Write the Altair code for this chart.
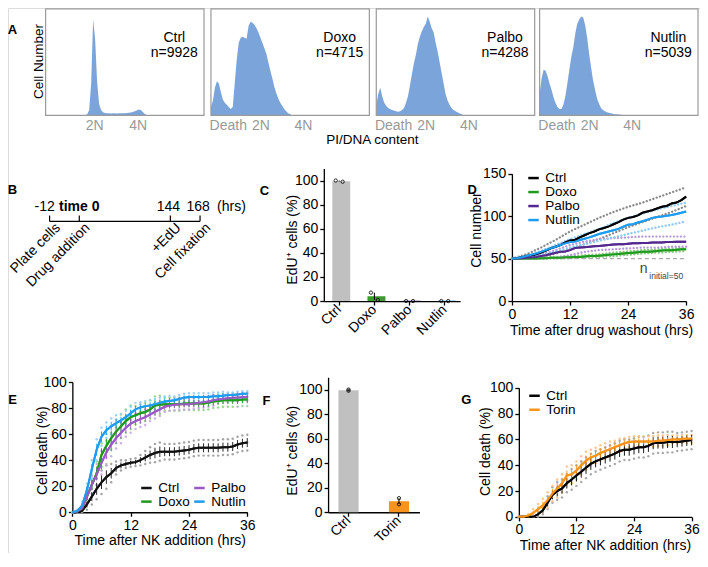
import altair as alt
import pandas as pd

W, H = 692, 545
FONT = "Liberation Sans, Arial, Helvetica, sans-serif"


def X(p):
    return round((p - 5) * 0.99, 2)


def Y(p):
    return round((p - 2.5) * 0.972, 2)


# ======================= DATA =======================
# ---- A: DNA-content histograms (x: box units 0-160, y: % of box height)
A_NAMES = ["Ctrl", "Doxo", "Palbo", "Nutlin"]
A_COUNTS = [9928, 4715, 4288, 5039]
A_BINS = list(range(0, 122, 2))
A_CTRL = [0, 0, 0, 0, 0, 0, 0, 0, 0, 0, 0, 0, 0, 0, 0, 0, 0, 0, 0, 0, 0,
          1, 5, 30, 90, 72, 32, 11, 5, 3, 2.2,
          2, 2, 1.9, 2, 2, 1.9, 2, 2.1, 2, 2.1,
          2.3, 2.5, 2.8, 3.2, 3.8, 4.5, 5.5, 5, 3.5, 1.5,
          0.5, 0, 0, 0, 0, 0, 0, 0, 0, 0]
A_DOXO = [8, 14, 26, 32, 30, 22, 15, 12, 10, 8,
          6, 8, 30, 52, 68, 73, 74, 73, 72, 84,
          88, 87, 85, 82, 78, 73, 68, 63, 58, 50,
          42, 35, 27, 21, 16, 12, 9, 6, 4, 2,
          1, 0, 0, 0, 0, 0, 0, 0, 0, 0, 0, 0, 0, 0, 0, 0, 0, 0, 0, 0, 0]
A_PALBO = [10, 20, 26, 18, 12, 9, 7, 6, 5, 4.5,
           4, 3.5, 4, 5, 7, 12, 18, 28, 39, 49,
           57, 67, 74, 79, 83, 86, 93, 88, 82, 78,
           68, 60, 50, 40, 30, 20, 14, 10, 7, 5,
           4, 3, 2, 1, 0.5, 0, 0, 0, 0, 0, 0, 0, 0, 0, 0, 0, 0, 0, 0, 0, 0]
A_NUTLIN = [20, 35, 43, 42, 37, 30, 24, 17, 12, 8,
            6, 6, 10, 18, 30, 43, 55, 64, 77, 86,
            90, 93, 92, 85, 73, 58, 45, 33, 24, 16,
            11, 7, 5, 4, 3, 2.5, 2, 1.5, 1.2, 1,
            0.8, 0.6, 0.5, 0.3, 0.2, 0.1, 0, 0, 0, 0, 0, 0, 0, 0, 0, 0, 0, 0, 0, 0, 0]
A_HISTS = [A_CTRL, A_DOXO, A_PALBO, A_NUTLIN]
A_TICKS_CTRL = [49, 93]
A_TICKS = [17, 50, 93]
A_TICK_LABELS = ["Death", "2N", "4N"]

# ---- B: timeline
B_HOURS = [-12, 0, 144, 168]
B_TOP = ["-12", "time 0", "144", "168"]
B_EVENTS = ["Plate cells", "Drug addition", "+EdU", "Cell fixation"]

# ---- C: EdU+ cells after drugs
C_GROUPS = ["Ctrl", "Doxo", "Palbo", "Nutlin"]
C_MEANS = [99.5, 4.0, 0.3, 0.3]
C_REP1 = [100, 7, 0, 0]
C_REP2 = [99, 1, 0, 0]
C_COLORS = ["#c0c0c0", "#3f9b2f", "#5b2d8e", "#1e9cf0"]

# ---- D: cell number after washout
HOURS = list(range(0, 37))
D_SERIES = ["Ctrl", "Doxo", "Palbo", "Nutlin"]
D_COLORS = ["#000000", "#1f9a1f", "#54288f", "#1e9cf0"]
D_REP_COLORS = ["#8a8a8a", "#86c97e", "#b59ad8", "#8ccaf7"]
D_CTRL = [50, 50.5, 51.5, 53, 54, 55, 57, 59.5, 62, 64, 66, 69, 71.5, 72, 75, 77.5, 80, 82, 84.5,
          86, 88, 90.5, 93, 96, 98, 99, 101, 104, 105.5, 107, 109, 111, 112, 115, 116, 119, 123]
D_DOXO = [50, 50, 50, 50, 50, 50, 50.5, 50.5, 51, 51, 51, 51.5, 51.5, 52, 52, 52.5, 53, 53, 53.5,
          54, 54.5, 55, 55.5, 56, 56.5, 57, 57.5, 58, 58, 58.5, 59, 59.5, 60, 60, 60.5, 61, 61]
D_PALBO = [50, 50, 50.5, 51, 51.5, 52, 53, 54, 55.5, 57, 58, 58.5, 60, 62.5, 63, 63.5, 64, 64.5, 65,
           65.5, 66, 66.5, 67, 67, 67.5, 68, 68, 68.5, 68.5, 69, 69, 69, 69.5, 69.5, 70, 70, 70]
D_NUTLIN = [50, 50.5, 51.5, 53, 54.5, 56, 58, 60, 62, 64, 66, 68, 69.5, 70, 72, 73.5, 75, 77, 79,
            80.5, 82, 83.5, 85, 87.5, 90, 90.5, 92.5, 94, 96, 98, 99, 99.5, 100.5, 101.5, 102.5, 104, 105.5]
D_T3 = [0, 3, 6, 9, 12, 15, 18, 21, 24, 27, 30, 33, 36]
D_CTRL_R1 = [50, 55, 63, 72, 82, 90, 98, 105, 111, 116, 122, 128, 134]
D_CTRL_R2 = [50, 50, 52, 56, 61, 67, 73, 80, 87, 93, 99, 105, 112]
D_DOXO_R1 = [50, 50, 51, 52, 53, 54, 55, 57, 58.5, 60, 61, 62, 62.5]
D_DOXO_R2 = [50, 50, 50, 50, 50.5, 51, 52, 53, 54.5, 56, 57, 58, 59]
D_PALBO_R1 = [50, 51, 55, 60, 66, 70, 73, 74, 75, 76, 76, 76, 76]
D_PALBO_R2 = [50, 50, 50, 51, 54, 58, 60, 61, 62, 63, 63, 64, 64]
D_NUTLIN_R1 = [50, 53, 59, 66, 73, 79, 85, 92, 98, 103, 108, 112, 116]
D_NUTLIN_R2 = [50, 51, 54, 58, 63, 67, 71, 75, 79, 83, 87, 90, 94]
D_BASE = 50

# ---- E: NK killing after drugs (three replicates per condition)
E_SERIES = ["Ctrl", "Doxo", "Palbo", "Nutlin"]
E_COLORS = ["#111111", "#1f9a1f", "#9b59c6", "#1e9cf0"]
E_DOT_COLORS = ["#9a9a9a", "#8fcf84", "#c6a6e2", "#8fcdf6"]
E_CTRL_A = [0, 0, 0, 2, 6, 10, 14, 18, 23, 29, 32, 34, 35, 35.5, 36, 37, 38, 38.5, 39.5, 40.5,
            40.5, 40.5, 41, 41.5, 42, 43, 43.5, 43.5, 43.5, 43.5, 43.5, 44, 44, 44.5, 46, 47, 47.5]
E_CTRL_B = [0, 0, 1, 6, 12, 18, 23, 27, 30, 34, 36, 37, 38, 38.5, 40, 42, 44, 45.5, 46.5, 46.5,
            46.5, 46.5, 47, 47.5, 48, 49, 49.5, 49.5, 49.5, 49.5, 49.5, 50, 50, 50.5, 52, 53, 53.5]
E_CTRL_C = [0, 0, 2, 10, 18, 26, 32, 36, 37, 39, 40, 40, 41, 41.5, 44, 47, 50, 52.5, 53.5, 52.5,
            52.5, 52.5, 53, 53.5, 54, 55, 55.5, 55.5, 55.5, 55.5, 55.5, 56, 56, 56.5, 58, 59, 59.5]
E_DOXO_A = [0, 0, 1, 7, 14, 21, 35, 42, 48, 53, 57, 61, 64, 67.5, 69, 70, 72, 75, 75.5, 78,
            78, 78, 78, 78.5, 78.5, 78.5, 78.5, 78.5, 79, 80, 80.5, 81, 81, 81, 81, 81.5, 81.5]
E_DOXO_B = [0, 0.5, 3, 12, 21, 30, 44, 51, 57, 62, 66, 70, 73, 74.5, 76, 77, 79, 82, 82.5, 83,
            83, 83, 83, 83.5, 83.5, 83.5, 83.5, 83.5, 84, 85, 85.5, 86, 86, 86, 86, 86.5, 86.5]
E_DOXO_C = [0, 1, 5, 17, 28, 39, 53, 60, 66, 71, 75, 79, 82, 81.5, 83, 84, 86, 89, 89.5, 88,
            88, 88, 88, 88.5, 88.5, 88.5, 88.5, 88.5, 89, 90, 90.5, 91, 91, 91, 91, 91.5, 91.5]
E_PALBO_A = [0, 0, 1, 7, 14, 21, 29, 37, 43, 49, 53, 58, 61, 64, 65.5, 67, 70, 72, 74, 77,
             78, 78.5, 79, 79, 79, 79.5, 80, 80.5, 81, 82, 83.5, 84, 84.5, 85, 85, 85.5, 85.5]
E_PALBO_B = [0, 0.5, 3, 12, 21, 29, 38, 46, 52, 57, 61, 65, 68, 70, 71.5, 73, 75, 77, 79, 81,
             82, 82.5, 83, 83, 83, 83.5, 84, 84.5, 85, 86, 86.5, 87, 87.5, 88, 88, 88.5, 88.5]
E_PALBO_C = [0, 1, 5, 17, 28, 37, 47, 55, 61, 65, 69, 72, 75, 76, 77.5, 79, 80, 82, 84, 85,
             86, 86.5, 87, 87, 87, 87.5, 88, 88.5, 89, 90, 89.5, 90, 90.5, 91, 91, 91.5, 91.5]
E_NUTLIN_A = [0, 0, 2, 12, 26, 40, 51, 57, 60, 62.5, 65.5, 68, 71, 74, 76.5, 77.5, 78, 79, 80, 81,
              81.5, 83, 84, 85, 85.5, 85.5, 85.5, 85.5, 85.5, 86, 86, 86.5, 88, 88, 88.5, 89, 89]
E_NUTLIN_B = [0, 1, 5, 17, 33, 48, 58, 63, 66, 68.5, 70.5, 73, 76, 79, 80.5, 81.5, 82, 83, 84, 85,
              85.5, 86, 87, 88, 88.5, 88.5, 88.5, 88.5, 88.5, 89, 89, 89.5, 90, 90, 90.5, 91, 91]
E_NUTLIN_C = [0, 2, 8, 22, 40, 56, 65, 69, 72, 74.5, 75.5, 78, 81, 84, 84.5, 85.5, 86, 87, 88, 89,
              89.5, 89, 90, 91, 91.5, 91.5, 91.5, 91.5, 91.5, 92, 92, 92.5, 92, 92, 92.5, 93, 93]

# ---- F: EdU+ cells with Torin
F_GROUPS = ["Ctrl", "Torin"]
F_MEANS = [99.5, 9.0]
F_REP1 = [100, 11.5]
F_REP2 = [99, 6.5]
F_COLORS = ["#c0c0c0", "#f7941d"]

# ---- G: NK killing with Torin
G_SERIES = ["Ctrl", "Torin"]
G_COLORS = ["#000000", "#f7941d"]
G_DOT_COLORS = ["#a0a0a0", "#f9c07e"]
G_CTRL_A = [0, 0, 0, 0, 0, 2, 6, 11, 13, 15, 19, 21, 24, 27, 30, 33, 35, 36.5, 38, 39.5,
            41, 43, 44, 44, 45, 46, 46, 47, 49, 49.5, 49.5, 50, 50, 51, 51.5, 52, 52.5]
G_CTRL_B = [0, 0, 0, 0, 2, 5, 11, 17, 20, 22, 26, 29, 32, 35, 38, 41, 43, 44.5, 46, 47.5,
            49, 51, 52, 52, 53, 54, 54, 55, 57, 57.5, 57.5, 58, 58, 58, 58.5, 59, 59.5]
G_CTRL_C = [0, 0, 0, 0, 4, 8, 16, 23, 27, 29, 33, 37, 40, 43, 46, 49, 51, 52.5, 54, 55.5,
            57, 59, 60, 60, 61, 62, 62, 63, 65, 65.5, 65.5, 66, 66, 65, 65.5, 66, 66.5]
G_TORIN_A = [0, 0, 0, 0, 2, 4, 7, 12, 15, 19, 25, 26, 29, 33, 36.5, 40, 41.5, 43.5, 45, 46.5,
             49, 50.5, 53, 54, 54.5, 54.5, 54.5, 54.5, 54.5, 55, 55, 55.5, 57, 57, 57.5, 57.5, 57.5]
G_TORIN_B = [0, 0, 1, 3, 6, 9, 13, 18, 22, 26, 32, 33, 36, 40, 43.5, 46, 47.5, 49.5, 51, 52.5,
             54, 55.5, 57, 58, 58.5, 58.5, 58.5, 58.5, 58.5, 59, 59, 59.5, 60, 60, 60.5, 60.5, 60.5]
G_TORIN_C = [0, 0, 2, 6, 10, 14, 19, 24, 29, 33, 39, 40, 43, 47, 50.5, 52, 53.5, 55.5, 57, 58.5,
             59, 60.5, 61, 62, 62.5, 62.5, 62.5, 62.5, 62.5, 63, 63, 63.5, 63, 63, 63.5, 63.5, 63.5]


# ======================= HELPERS =======================
def lin(domain, rng):
    return alt.Scale(domain=domain, range=rng, nice=False, zero=False)


AXBASE = dict(grid=False, domainColor="black", domainWidth=1.3, tickColor="black", tickWidth=1.3,
              tickSize=4, labelFontSize=14, labelColor="black", labelFont=FONT, labelPadding=2,
              labelFlush=False, labelOverlap=False, titleFont=FONT, titleFontSize=14,
              titleFontWeight="normal", titleColor="black")


def xaxis(axis_py, values=None, title=None, tcx=None, tcy=None, **kw):
    d = dict(AXBASE)
    d.update(orient="bottom", offset=round(Y(axis_py) - H, 2))
    if values is not None:
        d["values"] = values
    if title is None:
        d["title"] = None
    else:
        d.update(title=title, titleX=X(tcx), titleY=round(Y(tcy) - Y(axis_py), 2),
                 titleAngle=0, titleAlign="center", titleBaseline="middle")
    d.update(kw)
    return alt.Axis(**d)


def yaxis(axis_px, values=None, **kw):
    d = dict(AXBASE)
    d.update(orient="left", offset=-X(axis_px), title=None)
    if values is not None:
        d["values"] = values
    d.update(kw)
    return alt.Axis(**d)


def legend(px, py, cols=1, rowpad=-1.0, colpad=0, fs=13.5):
    return alt.Legend(orient="none", legendX=X(px), legendY=Y(py), title=None, direction="vertical",
                      columns=cols, labelFont=FONT, labelFontSize=fs, labelColor="black",
                      symbolType="stroke", symbolSize=110, symbolStrokeWidth=2.5,
                      rowPadding=rowpad, columnPadding=colpad, padding=0, labelOffset=5)


def reps_frame(times, series_names, arrays):
    rows = []
    for s, reps in zip(series_names, arrays):
        for r, arr in enumerate(reps):
            for t, v in zip(times, arr):
                rows.append({"series": s, "rep": r, "t": t, "v": v})
    return pd.DataFrame(rows)


def free_text(s, px, py, **kw):
    return alt.Chart(pd.DataFrame({"s": [s]})).mark_text(font=FONT, **kw).encode(
        x=alt.value(X(px)), y=alt.value(Y(py)), text="s:N")


layers = []

# ======================= PANEL A =======================
A_LEFT = [43, 210, 377, 542]
HIST_COLOR = "#7ba5da"
for i in range(4):
    left = A_LEFT[i]
    xs = lin([0, 160], [X(left), X(left + 160)])
    ys = lin([0, 100], [Y(113), Y(3.5)])
    vals = A_TICKS_CTRL if i == 0 else A_TICKS
    expr = ("datum.value < 30 ? '%s' : datum.value < 70 ? '%s' : '%s'"
            % tuple(A_TICK_LABELS))
    xa = alt.Axis(orient="bottom", offset=round(Y(113) - H, 2), values=vals, grid=False,
                  domain=False, ticks=False, labelExpr=expr, labelColor="#999999",
                  labelFontSize=14, labelFont=FONT, labelPadding=3, labelFlush=False,
                  labelOverlap=False, title=None)
    df = pd.DataFrame({"x": A_BINS, "y": A_HISTS[i]})
    area = alt.Chart(df).mark_area(color=HIST_COLOR, opacity=1).encode(
        x=alt.X("x:Q", scale=xs, axis=xa), y=alt.Y("y:Q", scale=ys, axis=None))
    one = pd.DataFrame({"lab": ["%s\nn=%d" % (A_NAMES[i], A_COUNTS[i])]})
    frame = alt.Chart(one).mark_rect(fillOpacity=0, stroke="#9a9a9a", strokeWidth=1.2).encode(
        x=alt.XDatum(0, scale=xs, axis=xa), x2=alt.X2Datum(160),
        y=alt.YDatum(0, scale=ys, axis=None), y2=alt.Y2Datum(100))
    txt = alt.Chart(one).mark_text(lineBreak="\n", align="center", baseline="top", fontSize=14,
                                   font=FONT, lineHeight=15, color="black").encode(
        x=alt.XDatum(130, scale=xs, axis=xa), y=alt.YDatum(79, scale=ys, axis=None),
        text="lab:N")
    layers.append(alt.layer(area, frame, txt))
layers.append(free_text("Cell Number", 36.5, 57.5, fontSize=13.5, angle=270,
                        align="center", baseline="middle"))

# ======================= PANEL B =======================
bxs = alt.Scale(domain=B_HOURS, range=[X(47), X(77), X(169), X(199)], nice=False, zero=False)
bdf = pd.DataFrame({"h": B_HOURS, "top": B_TOP, "ev": B_EVENTS, "k": [0, 1, 2, 3]})
bx = alt.X("h:Q", scale=bxs, axis=None)
b_line = alt.Chart(pd.DataFrame({"a": [min(B_HOURS)], "b": [max(B_HOURS)]})).mark_rule(
    color="black", strokeWidth=1.2).encode(
    x=alt.X("a:Q", scale=bxs, axis=None), x2="b:Q", y=alt.value(Y(222)))
b_ticks = alt.Chart(bdf).mark_rule(color="black", strokeWidth=1.2).encode(
    x=bx, y=alt.value(Y(216)), y2=alt.value(Y(222)))
b_t0 = alt.Chart(bdf).transform_filter("datum.k == 0").mark_text(
    fontSize=14, font=FONT, dx=-5, baseline="middle").encode(x=bx, y=alt.value(Y(207)), text="top:N")
b_t1 = alt.Chart(bdf).transform_filter("datum.k == 1").mark_text(
    fontSize=14, font=FONT, fontWeight="bold", baseline="middle").encode(
    x=bx, y=alt.value(Y(207)), text="top:N")
b_t2 = alt.Chart(bdf).transform_filter("datum.k >= 2").mark_text(
    fontSize=14, font=FONT, dx=-2, baseline="middle").encode(x=bx, y=alt.value(Y(207)), text="top:N")
b_hrs = alt.Chart(pd.DataFrame({"u": ["(hrs)"]})).mark_text(
    fontSize=14, font=FONT, align="left", dx=17, baseline="middle").encode(
    x=alt.XDatum(max(B_HOURS), scale=bxs, axis=None), y=alt.value(Y(207)), text="u:N")
b_ev = alt.Chart(bdf).mark_text(fontSize=14, font=FONT, angle=315, align="right",
                                baseline="top", dx=5).encode(
    x=bx, y=alt.value(Y(225)), text="ev:N")
layers.append(alt.layer(b_line, b_ticks, b_t0, b_t1, b_t2, b_hrs, b_ev))

# ======================= PANEL C =======================
cxs = alt.Scale(domain=C_GROUPS, range=[X(324), X(461.7)], paddingInner=0.607, paddingOuter=0.24)
cys = lin([0, 110], [Y(304), Y(167.6)])
cxa = xaxis(304, labelAngle=315, labelAlign="right", labelBaseline="middle", bandPosition=0.5)
cya = yaxis(324, [0, 20, 40, 60, 80, 100])
cx = alt.X("g:N", scale=cxs, axis=cxa, sort=C_GROUPS)
c_bars = alt.Chart(pd.DataFrame({"g": C_GROUPS, "m": C_MEANS})).mark_bar().encode(
    x=cx, y=alt.Y("m:Q", scale=cys, axis=cya),
    color=alt.Color("g:N", scale=alt.Scale(domain=C_GROUPS, range=C_COLORS), legend=None))
c_rep = pd.DataFrame({"g": C_GROUPS + C_GROUPS, "rep": ["r1"] * 4 + ["r2"] * 4,
                      "v": C_REP1 + C_REP2})
c_err = alt.Chart(c_rep).mark_errorbar(extent="stderr", color="black", thickness=1).encode(
    x=cx, y=alt.Y("v:Q", scale=cys, axis=cya))
c_pts = alt.Chart(c_rep).mark_point(shape="circle", size=11, filled=False, color="black",
                                    strokeWidth=0.8, opacity=1).encode(
    x=cx, xOffset=alt.XOffset("rep:N"), y=alt.Y("v:Q", scale=cys, axis=cya))
layers.append(alt.layer(c_bars, c_err, c_pts))
layers.append(free_text("EdU⁺ cells (%)", 292.5, 241, fontSize=14, angle=270,
                        align="center", baseline="middle"))

# ======================= PANEL D =======================
dxs = lin([0, 36], [X(514), X(690)])
dys = lin([0, 150], [Y(304), Y(173)])
dxa = xaxis(304, [0, 12, 24, 36], "Time after drug washout (hrs)", 604, 334)
dya = yaxis(514, [0, 50, 100, 150])
d_rep_df = reps_frame(D_T3, D_SERIES, [[D_CTRL_R1, D_CTRL_R2], [D_DOXO_R1, D_DOXO_R2],
                                      [D_PALBO_R1, D_PALBO_R2], [D_NUTLIN_R1, D_NUTLIN_R2]])
d_mean_df = reps_frame(HOURS, D_SERIES, [[D_CTRL], [D_DOXO], [D_PALBO], [D_NUTLIN]])
dx = alt.X("t:Q", scale=dxs, axis=dxa)
dy = alt.Y("v:Q", scale=dys, axis=dya)
dcol = alt.Scale(domain=D_SERIES, range=D_COLORS)
dleg = legend(529, 170.5, rowpad=-1.5)
d_lines = alt.Chart(d_mean_df).mark_line(strokeWidth=2).encode(
    x=dx, y=dy, color=alt.Color("series:N", scale=dcol, legend=dleg))
d_reps = alt.Chart(d_rep_df).mark_line(strokeDash=[0.1, 3.4], strokeCap="round",
                                       strokeWidth=2.3).encode(
    x=dx, y=dy, stroke=alt.Stroke("series:N", scale=alt.Scale(domain=D_SERIES, range=D_REP_COLORS),
                                  legend=None), detail="rep:N")
d_base = alt.Chart(pd.DataFrame({"b": [D_BASE]})).mark_rule(
    color="#aaaaaa", strokeDash=[4, 3], strokeWidth=1.2).encode(
    x=alt.XDatum(0, scale=dxs, axis=dxa), x2=alt.X2Datum(36), y=alt.Y("b:Q", scale=dys, axis=dya))
d_n = alt.Chart(pd.DataFrame({"s": ["n"]})).mark_text(
    fontSize=14, font=FONT, align="left", baseline="middle", color="#444444").encode(
    x=alt.XDatum(26.4, scale=dxs, axis=dxa), y=alt.YDatum(37.8, scale=dys, axis=dya), text="s:N")
d_n2 = alt.Chart(pd.DataFrame({"s": ["initial=50"]})).mark_text(
    fontSize=8.5, font=FONT, align="left", baseline="middle", color="#444444").encode(
    x=alt.XDatum(28.4, scale=dxs, axis=dxa), y=alt.YDatum(29.5, scale=dys, axis=dya), text="s:N")
layers.append(alt.layer(d_lines, d_reps, d_base, d_n, d_n2, d_lines))
layers.append(free_text("Cell number", 479, 231, fontSize=14, angle=270,
                        align="center", baseline="middle"))

# ======================= PANEL E =======================
exs = lin([0, 36], [X(70), X(246.7)])
eys = lin([0, 100], [Y(521.3), Y(387.3)])
exa = xaxis(521.3, [0, 12, 24, 36], "Time after NK addition (hrs)", 158.3, 550)
eya = yaxis(70, [0, 20, 40, 60, 80, 100])
e_df = reps_frame(HOURS, E_SERIES, [[E_CTRL_A, E_CTRL_B, E_CTRL_C],
                                    [E_DOXO_A, E_DOXO_B, E_DOXO_C],
                                    [E_PALBO_A, E_PALBO_B, E_PALBO_C],
                                    [E_NUTLIN_A, E_NUTLIN_B, E_NUTLIN_C]])
ex = alt.X("t:Q", scale=exs, axis=exa)
ecol = alt.Scale(domain=E_SERIES, range=E_COLORS)
eleg = legend(138, 489, cols=2, rowpad=-2.5, colpad=-2, fs=13.5)
e_line = alt.Chart(e_df).mark_line(strokeWidth=2).encode(
    x=ex, y=alt.Y("mean(v):Q", scale=eys, axis=eya),
    color=alt.Color("series:N", scale=ecol, legend=eleg))
e_dots = alt.Chart(e_df).mark_circle(size=6, opacity=0.9).encode(
    x=ex, y=alt.Y("v:Q", scale=eys, axis=eya),
    fill=alt.Fill("series:N", scale=alt.Scale(domain=E_SERIES, range=E_DOT_COLORS), legend=None))
e_err = alt.Chart(e_df).mark_errorbar(extent="stderr", thickness=0.9, orient="vertical").encode(
    x=ex, y=alt.Y("v:Q", scale=eys, axis=eya), color=alt.Color("series:N", scale=ecol, legend=eleg))
layers.append(alt.layer(e_line, e_dots, e_err, e_line))
layers.append(free_text("Cell death (%)", 40, 458, fontSize=14, angle=270,
                        align="center", baseline="middle"))

# ======================= PANEL F =======================
fxs = alt.Scale(domain=F_GROUPS, range=[X(328.3), X(420.6)], paddingInner=0.6, paddingOuter=0.205)
fys = lin([0, 110], [Y(521.3), Y(382.4)])
fxa = xaxis(521.3, labelAngle=315, labelAlign="right", labelBaseline="middle", bandPosition=0.5)
fya = yaxis(328.3, [0, 20, 40, 60, 80, 100])
fx = alt.X("g:N", scale=fxs, axis=fxa, sort=F_GROUPS)
f_bars = alt.Chart(pd.DataFrame({"g": F_GROUPS, "m": F_MEANS})).mark_bar().encode(
    x=fx, y=alt.Y("m:Q", scale=fys, axis=fya),
    color=alt.Color("g:N", scale=alt.Scale(domain=F_GROUPS, range=F_COLORS), legend=None))
f_rep = pd.DataFrame({"g": F_GROUPS + F_GROUPS, "rep": ["r1"] * 2 + ["r2"] * 2,
                      "v": F_REP1 + F_REP2})
f_err = alt.Chart(f_rep).mark_errorbar(extent="stderr", color="black", thickness=1).encode(
    x=fx, y=alt.Y("v:Q", scale=fys, axis=fya))
f_pts = alt.Chart(f_rep).mark_point(shape="circle", size=11, filled=False, color="black",
                                    strokeWidth=0.8, opacity=1).encode(
    x=fx, y=alt.Y("v:Q", scale=fys, axis=fya))
layers.append(alt.layer(f_bars, f_err, f_pts))
layers.append(free_text("EdU⁺ cells (%)", 293, 458, fontSize=14, angle=270,
                        align="center", baseline="middle"))

# ======================= PANEL G =======================
gxs = lin([0, 36], [X(521), X(695.5)])
gys = lin([0, 100], [Y(526), Y(393.3)])
gxa = xaxis(526, [0, 12, 24, 36], "Time after NK addition (hrs)", 608, 555)
gya = yaxis(521, [0, 20, 40, 60, 80, 100])
g_df = reps_frame(HOURS, G_SERIES, [[G_CTRL_A, G_CTRL_B, G_CTRL_C],
                                    [G_TORIN_A, G_TORIN_B, G_TORIN_C]])
gx = alt.X("t:Q", scale=gxs, axis=gxa)
gcol = alt.Scale(domain=G_SERIES, range=G_COLORS)
gleg = legend(530, 394.5, rowpad=-1.5)
g_line = alt.Chart(g_df).mark_line(strokeWidth=2).encode(
    x=gx, y=alt.Y("mean(v):Q", scale=gys, axis=gya),
    color=alt.Color("series:N", scale=gcol, legend=gleg))
g_dots = alt.Chart(g_df).mark_circle(size=6, opacity=0.9).encode(
    x=gx, y=alt.Y("v:Q", scale=gys, axis=gya),
    fill=alt.Fill("series:N", scale=alt.Scale(domain=G_SERIES, range=G_DOT_COLORS), legend=None))
g_err = alt.Chart(g_df).mark_errorbar(extent="stderr", thickness=0.9, orient="vertical").encode(
    x=gx, y=alt.Y("v:Q", scale=gys, axis=gya), color=alt.Color("series:N", scale=gcol, legend=gleg))
layers.append(alt.layer(g_line, g_dots, g_err, g_line))
layers.append(free_text("Cell death (%)", 487.5, 459, fontSize=14, angle=270,
                        align="center", baseline="middle"))

# ======================= ANNOTATIONS =======================
LETTERS = ["A", "B", "C", "D", "E", "F", "G"]
LETTER_POS = [(9.5, 25), (9.5, 190), (264, 190.5), (474, 190), (9.5, 406), (266, 406.5), (468, 406)]
for letter, (px, py) in zip(LETTERS, LETTER_POS):
    layers.append(free_text(letter, px, py, fontSize=13, fontWeight="bold",
                            align="center", baseline="middle"))
layers.append(free_text("PI/DNA content", 373, 138, fontSize=13.5, align="center",
                        baseline="middle"))

chart = alt.layer(*layers).resolve_scale(
    x="independent", y="independent", color="independent", fill="independent",
    stroke="independent", xOffset="independent"
).properties(
    width=W, height=H, padding=0, autosize=alt.AutoSizeParams(type="none"), background="white"
).configure_view(stroke=None).configure(font=FONT)

chart.save("out.html", embed_options={"renderer": "svg", "actions": False})
